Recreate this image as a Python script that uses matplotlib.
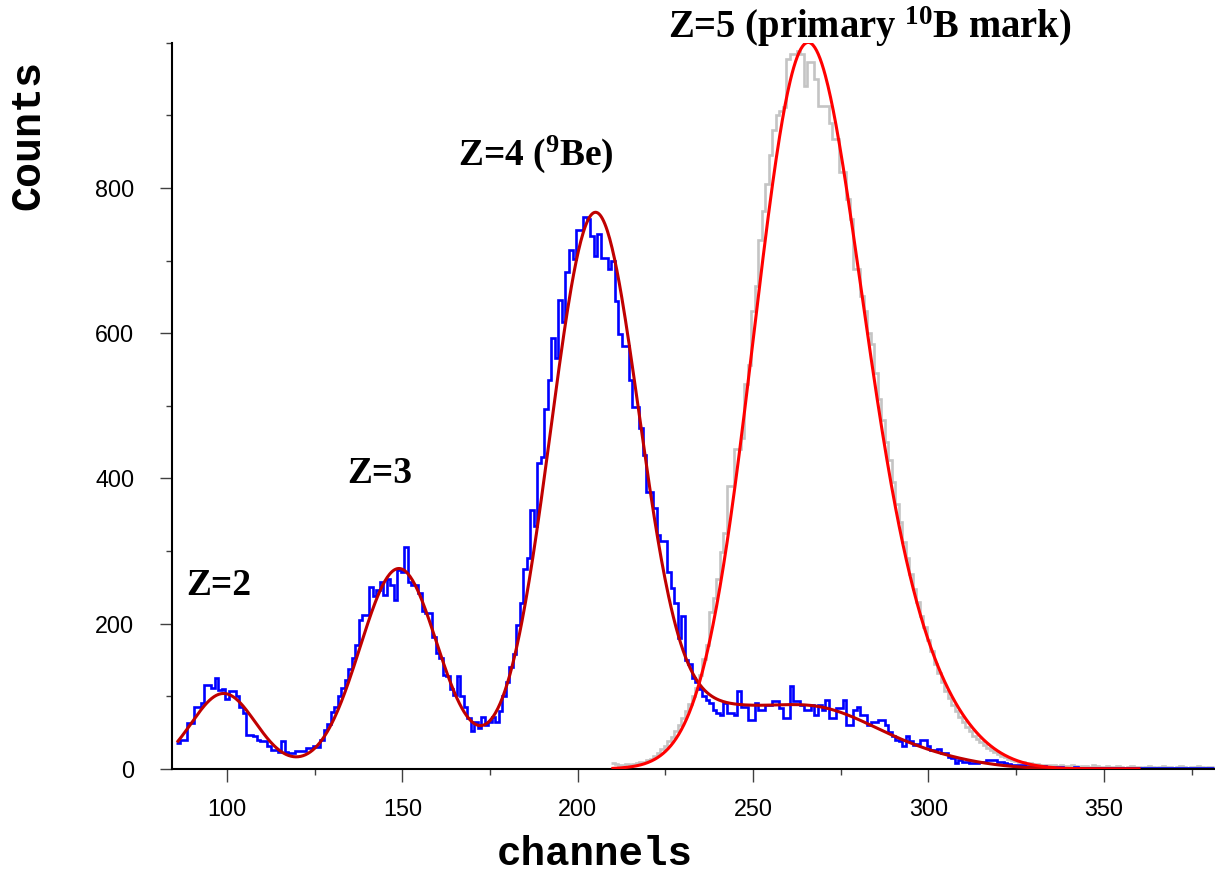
import numpy as np
import matplotlib
matplotlib.use("Agg")
import matplotlib.pyplot as plt
from matplotlib.ticker import MultipleLocator

# ---------------- data ----------------
# blue spectrum (all events), one value per channel starting at channel 86
blue_start = 86
blue_counts = [
    36, 40, 40, 63, 63, 86, 86, 91, 116, 116,            # 86-95
    112, 125, 109, 110, 97, 108, 108, 100, 86, 77,       # 96-105
    47, 47, 45, 40, 38, 38, 32, 26, 26, 24,              # 106-115
    39, 24, 22, 22, 25, 25, 25, 29, 29, 31,              # 116-125
    30, 40, 54, 62, 79, 85, 100, 111, 123, 137,          # 126-135
    153, 171, 205, 212, 212, 251, 238, 247, 257, 240,    # 136-145
    261, 254, 233, 274, 271, 306, 258, 254, 254, 242,    # 146-155
    217, 215, 215, 182, 160, 153, 130, 128, 110, 102,    # 156-165
    128, 100, 85, 70, 52, 65, 56, 72, 60, 65,            # 166-175
    72, 65, 80, 100, 120, 140, 158, 198, 229, 276,       # 176-185
    291, 357, 334, 422, 430, 495, 536, 594, 566, 646,    # 186-195
    616, 684, 714, 702, 742, 742, 760, 757, 734, 707,    # 196-205
    737, 704, 704, 689, 699, 644, 599, 583, 583, 536,    # 206-215
    498, 498, 470, 432, 382, 382, 359, 322, 314, 314,    # 216-225
    271, 249, 229, 181, 211, 150, 145, 125, 120, 110,    # 226-235
    100, 95, 91, 81, 77, 75, 91, 77, 77, 75,             # 236-245
    107, 86, 86, 68, 68, 91, 81, 81, 88, 88,             # 246-255
    93, 93, 84, 70, 70, 114, 93, 93, 88, 81,             # 256-265
    81, 88, 75, 88, 81, 95, 70, 70, 84, 84,              # 266-275
    95, 61, 61, 81, 86, 75, 75, 61, 65, 65,              # 276-285
    68, 68, 61, 51, 45, 40, 38, 31, 45, 38,              # 286-295
    33, 35, 40, 40, 31, 26, 26, 28, 22, 22,              # 296-305
    17, 15, 8, 12, 10, 10, 8, 8, 8, 9,                   # 306-315
    10, 13, 12, 12, 10, 10, 8, 7, 6, 6,                  # 316-325
    5, 5, 4, 4, 4, 3, 3, 4, 3, 3,                        # 326-335
    2, 3, 3, 2, 2, 2, 3, 2, 2, 1,                        # 336-345
    2, 2, 1, 2, 1, 2, 1, 1, 2, 1,                        # 346-355
    2, 1, 1, 2, 1, 1, 2, 1, 1, 2,                        # 356-365
    1, 1, 2, 1, 2, 1, 1, 2, 1, 1,                        # 366-375
    2, 1, 1, 2, 1, 1,                                    # 376-381
]

# grey spectrum (primary 10B mark), one value per channel starting at 210
grey_start = 210
grey_counts = [
    8, 7, 6, 6, 7, 6, 7, 8, 9, 10,                       # 210-219
    12, 14, 18, 22, 27, 32, 38, 44, 52, 60,              # 220-229
    70, 80, 90, 100, 112, 130, 151, 171, 216, 235,       # 230-239
    261, 299, 325, 389, 389, 440, 440, 456, 530, 556,    # 240-249
    630, 665, 729, 768, 806, 845, 880, 900, 906, 912,    # 250-259
    978, 985, 985, 989, 985, 941, 973, 973, 950, 913,    # 260-269
    913, 913, 890, 868, 868, 822, 822, 785, 757, 688,    # 270-279
    688, 651, 630, 600, 585, 545, 510, 480, 450, 425,    # 280-289
    395, 365, 340, 312, 290, 268, 248, 230, 210, 195,    # 290-299
    178, 162, 145, 132, 120, 108, 98, 88, 80, 72,        # 300-309
    65, 58, 52, 46, 41, 37, 33, 29, 26, 23,              # 310-319
    20, 18, 16, 14, 12, 11, 10, 9, 8, 8,                 # 320-329
    7, 7, 6, 6, 5, 5, 5, 4, 5, 4,                        # 330-339
    4, 5, 4, 3, 4, 4, 3, 5, 4, 3,                        # 340-349
    3, 4, 3, 3, 4, 3, 2, 3, 4, 3,                        # 350-359
    3, 2, 3, 4, 3, 2, 3, 4, 3, 3,                        # 360-369
    2, 3, 4, 3, 2, 3, 3, 4, 3, 2,                        # 370-379
    3, 3,                                                # 380-381
]

# fitted Gaussian components (centre, sigma, amplitude)
fit1_centres = [99, 149, 205, 238, 266, 300]
fit1_sigmas = [9.2, 11.1, 12.8, 12.0, 19.0, 15.0]
fit1_amps = [104, 276, 765, 45, 84, 10]
fit1_range = (86, 360)

fit2_centres = [262, 272, 298]
fit2_sigmas = [14.0, 16.0, 14.0]
fit2_amps = [600, 450, 65]
fit2_range = (210, 360)

x_major = [100, 150, 200, 250, 300, 350]
y_major = [0, 200, 400, 600, 800]

labels = [
    (88.5, 240, "Z=2", 27),
    (134.2, 394, "Z=3", 27),
    (165.8, 832, "Z=4 ($^{9}$Be)", 27),
    (225.6, 1006, "Z=5 (primary $^{10}$B mark)", 27.8),
]

# ---------------- style ----------------
plt.rcParams["mathtext.fontset"] = "custom"
plt.rcParams["mathtext.rm"] = "Liberation Serif:bold"
plt.rcParams["mathtext.it"] = "Liberation Serif:bold"
plt.rcParams["mathtext.bf"] = "Liberation Serif:bold"
plt.rcParams["font.family"] = ["Liberation Sans", "DejaVu Sans"]

fig = plt.figure(figsize=(12.15, 8.73), dpi=100)
ax = fig.add_axes([172 / 1215, 1 - 769 / 873, 1 - 172 / 1215, (769 - 42.7) / 873])


def edges_for(start, n):
    return np.arange(start - 0.5, start + n + 0.5, 1.0)


def gauss_sum(x, centres, sigmas, amps):
    y = np.zeros_like(x)
    for c, s, a in zip(centres, sigmas, amps):
        y += a * np.exp(-((x - c) ** 2) / (2 * s * s))
    return y


ax.stairs(grey_counts, edges_for(grey_start, len(grey_counts)), baseline=None,
          color="#c4c4c4", lw=1.9, zorder=1)
ax.stairs(blue_counts, edges_for(blue_start, len(blue_counts)), baseline=None,
          color="#0000ff", lw=1.9, zorder=2)

xf1 = np.linspace(fit1_range[0], fit1_range[1], 800)
ax.plot(xf1, gauss_sum(xf1, fit1_centres, fit1_sigmas, fit1_amps),
        color="#c00000", lw=2.2, zorder=3)
xf2 = np.linspace(fit2_range[0], fit2_range[1], 600)
ax.plot(xf2, gauss_sum(xf2, fit2_centres, fit2_sigmas, fit2_amps),
        color="#ff0000", lw=2.2, zorder=4)

ax.set_xlim(84.3, 381.7)
ax.set_ylim(0, 1000)

for s in ("top", "right"):
    ax.spines[s].set_visible(False)
for s in ("left", "bottom"):
    ax.spines[s].set_linewidth(1.5)
    ax.spines[s].set_color("black")

ax.set_xticks(x_major)
ax.set_yticks(y_major)
ax.xaxis.set_minor_locator(MultipleLocator(25))
ax.yaxis.set_minor_locator(MultipleLocator(100))
ax.tick_params(which="major", direction="out", length=9, width=1.0,
               color="#404040", labelsize=16.8)
ax.tick_params(which="minor", direction="out", length=4.5, width=1.0,
               color="#404040")
ax.tick_params(axis="y", which="major", pad=18)
ax.tick_params(axis="x", which="major", pad=12)

for x, y, t, fs in labels:
    ax.text(x, y, t, fontsize=fs, fontweight="bold", family="Liberation Serif",
            ha="left", va="baseline", clip_on=False, zorder=5)

fig.text(595 / 1215, 1 - 865 / 873, "channels", fontsize=29.4, fontweight="bold",
         family="Liberation Mono", ha="center", va="baseline")
fig.text(28.5 / 1215, 1 - 135 / 873, "Counts", fontsize=30, fontweight="bold",
         family="Liberation Mono", ha="center", va="center", rotation=90)

fig.savefig("out.png", dpi=100)
